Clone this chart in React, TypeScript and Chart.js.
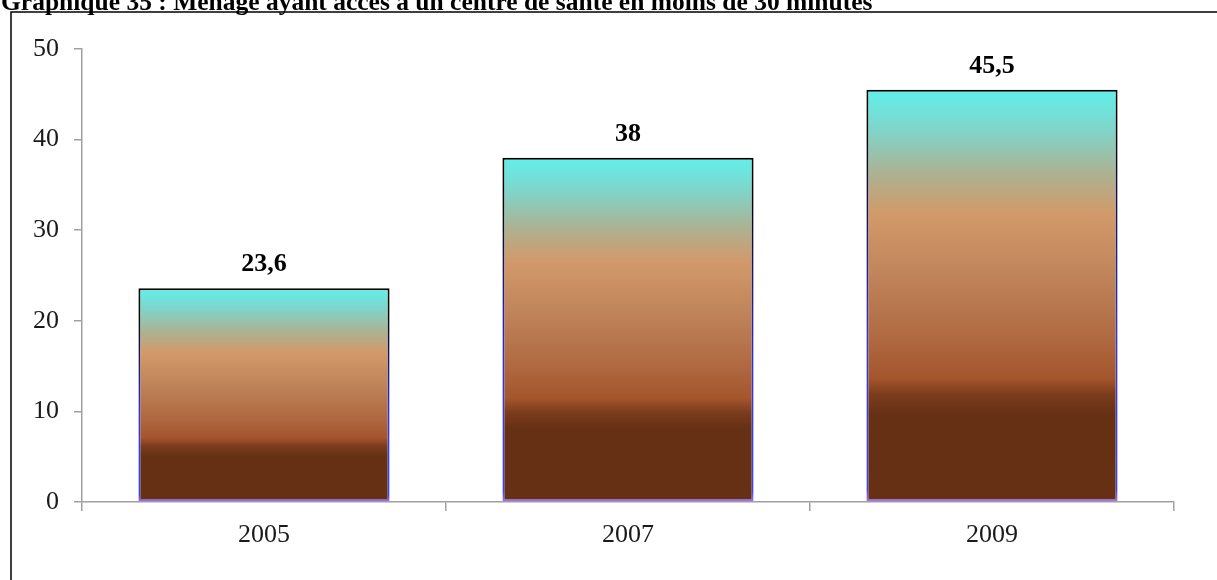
import React, { useEffect, useRef } from "react";
import { Chart, registerables } from "chart.js";

Chart.register(...registerables);

const TITLE = "Graphique 35 : Ménage ayant accès à un centre de santé en moins de 30 minutes";
const categories = ["2005", "2007", "2009"];
const values = [23.6, 38, 45.5];
const valueLabels = ["23,6", "38", "45,5"];
const yTicks = [0, 10, 20, 30, 40, 50];

const SERIF = "'Liberation Serif', 'Times New Roman', serif";

const fillStops: [number, string][] = [
  [0, "#653014"],
  [0.21, "#653014"],
  [0.26, "#7a3c1c"],
  [0.3, "#a4552c"],
  [0.4, "#b06a42"],
  [0.55, "#c0845a"],
  [0.7, "#d29a6a"],
  [0.79, "#afb08f"],
  [0.9, "#80d4c8"],
  [1, "#60f0ec"],
];

const borderStops: [number, string][] = [
  [0, "#b070f0"],
  [0.03, "#4040ff"],
  [0.4, "#3030e0"],
  [0.65, "#1a1a70"],
  [0.9, "#000000"],
  [1, "#000000"],
];

function makeGrad(chart: any, value: number, stops: [number, string][], fallback: string) {
  const y = chart.scales && chart.scales.y;
  if (!chart.chartArea || !y) return fallback;
  const top = y.getPixelForValue(value);
  const bottom = y.getPixelForValue(0);
  const g = chart.ctx.createLinearGradient(0, bottom, 0, top);
  stops.forEach(([o, c]) => g.addColorStop(o, c));
  return g;
}

const framePlugin = {
  id: "frameAndTitle",
  beforeDraw(chart: any) {
    const ctx = chart.ctx;
    ctx.save();
    ctx.fillStyle = "#ffffff";
    ctx.fillRect(0, 0, chart.width, chart.height);
    ctx.strokeStyle = "#000000";
    ctx.lineWidth = 1.5;
    ctx.strokeRect(11, 12, chart.width + 20, chart.height + 20);
    ctx.restore();
  },
  afterDraw(chart: any) {
    const ctx = chart.ctx;
    ctx.save();
    ctx.fillStyle = "#000000";
    ctx.font = `bold 25.5px ${SERIF}`;
    ctx.textAlign = "left";
    ctx.textBaseline = "alphabetic";
    ctx.fillText(TITLE, 1, 10);
    ctx.restore();
  },
};

const valueLabelPlugin = {
  id: "valueLabels",
  afterDatasetsDraw(chart: any) {
    const ctx = chart.ctx;
    const meta = chart.getDatasetMeta(0);
    ctx.save();
    ctx.fillStyle = "#000000";
    ctx.font = `bold 26px ${SERIF}`;
    ctx.textAlign = "center";
    ctx.textBaseline = "alphabetic";
    meta.data.forEach((bar: any, i: number) => {
      ctx.fillText(valueLabels[i], bar.x, bar.y - 17);
    });
    ctx.restore();
  },
};

export default function App() {
  const ref = useRef<HTMLCanvasElement | null>(null);
  useEffect(() => {
    if (!ref.current) return;
    const chart = new Chart(ref.current, {
      type: "bar",
      data: {
        labels: categories,
        datasets: [
          {
            data: values,
            backgroundColor: (c: any) => makeGrad(c.chart, c.raw, fillStops, "#a4552c"),
            borderColor: (c: any) => makeGrad(c.chart, c.raw, borderStops, "#000000"),
            borderWidth: 2,
            borderSkipped: false,
            barPercentage: 0.69,
            categoryPercentage: 1,
          },
        ],
      },
      options: {
        responsive: false,
        animation: false,
        devicePixelRatio: 1,
        layout: { padding: { left: 0, right: 43, top: 49, bottom: 18 } },
        plugins: {
          legend: { display: false },
          title: { display: false },
          tooltip: { enabled: false },
        },
        scales: {
          x: {
            offset: true,
            grid: {
              offset: true,
              drawOnChartArea: false,
              drawTicks: true,
              tickLength: 9,
              color: "#a0a0a0",
              lineWidth: 1.5,
            },
            border: { color: "#a0a0a0", width: 1.5 },
            ticks: {
              color: "#1a1a1a",
              font: { family: SERIF, size: 26 },
              padding: 9,
              maxRotation: 0,
            },
            afterFit: (s: any) => {
              s.height = 60;
            },
          },
          y: {
            min: 0,
            max: 50,
            afterBuildTicks: (s: any) => {
              s.ticks = yTicks.map((v) => ({ value: v }));
            },
            grid: {
              drawOnChartArea: false,
              drawTicks: true,
              tickLength: 8,
              color: "#a0a0a0",
              lineWidth: 1.5,
            },
            border: { color: "#a0a0a0", width: 1.5 },
            ticks: {
              color: "#1a1a1a",
              font: { family: SERIF, size: 26 },
              padding: 15,
            },
            afterFit: (s: any) => {
              s.width = 82;
            },
          },
        },
      },
      plugins: [framePlugin, valueLabelPlugin],
    });
    return () => chart.destroy();
  }, []);
  return (
    <div style={{ position: "fixed", left: 0, top: 0, width: 1217, height: 580, background: "#fff" }}>
      <canvas ref={ref} width={1217} height={580} style={{ display: "block", width: 1217, height: 580 }} />
    </div>
  );
}
